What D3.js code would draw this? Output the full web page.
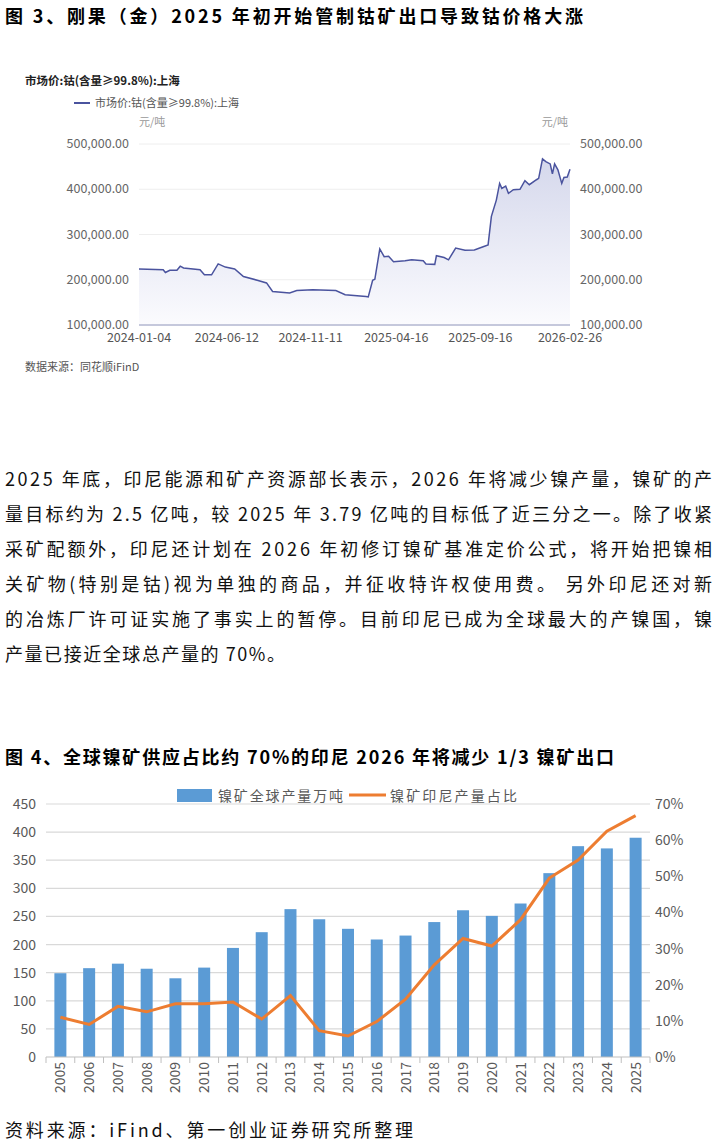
<!DOCTYPE html>
<html><head><meta charset="utf-8">
<script src="https://cdn.jsdelivr.net/npm/d3@7"></script>
<style>body{margin:0;background:#fff}svg{display:block;font-family:"Noto Sans CJK SC","Noto Sans",sans-serif}</style>
</head><body>
<svg id="page" width="716" height="1144"></svg>
<script>
// cobalt price, Shanghai (yuan/ton)
var priceDates = ["2024-01-04","2024-02-17","2024-02-21","2024-02-29","2024-03-13","2024-03-19","2024-03-25","2024-04-24","2024-05-02","2024-05-15","2024-05-27","2024-06-09","2024-06-26","2024-07-12","2024-08-06","2024-08-23","2024-09-03","2024-10-04","2024-10-17","2024-11-15","2024-12-27","2025-01-13","2025-02-20","2025-02-24","2025-03-04","2025-03-08","2025-03-17","2025-03-25","2025-04-02","2025-04-11","2025-05-02","2025-05-14","2025-06-04","2025-06-09","2025-06-25","2025-06-28","2025-07-12","2025-07-20","2025-08-02","2025-08-19","2025-09-05","2025-09-21","2025-09-30","2025-10-06","2025-10-15","2025-10-21","2025-10-25","2025-11-01","2025-11-06","2025-11-15","2025-11-27","2025-12-06","2025-12-14","2025-12-27","2025-12-31","2026-01-07","2026-01-13","2026-01-21","2026-01-25","2026-01-29","2026-02-04","2026-02-11","2026-02-15","2026-02-21","2026-02-26"];
var priceValues = [224000,222000,216000,221000,221000,230000,226000,222000,211000,211000,235000,228000,224000,207000,199000,193000,174000,171000,176000,178000,176000,167000,163000,162000,199000,201000,268000,251000,252000,240000,242000,244000,242000,235000,234000,253000,249000,244000,270000,265000,266000,273000,277000,340000,376000,413000,402000,407000,391000,399000,400000,419000,410000,421000,424000,467000,461000,456000,434000,456000,443000,413000,426000,427000,444000];
var priceTicks = [100000,200000,300000,400000,500000];
var dateTicks = ["2024-01-04","2024-06-12","2024-11-11","2025-04-16","2025-09-16","2026-02-26"];

// nickel ore
var years = ["2005","2006","2007","2008","2009","2010","2011","2012","2013","2014","2015","2016","2017","2018","2019","2020","2021","2022","2023","2024","2025"];
var globalOutput = [149,158,166,157,140,159,194,222,263,245,228,209,216,240,261,251,273,327,375,371,390];
var indoShare = [0.11,0.09,0.14,0.125,0.147,0.147,0.152,0.105,0.17,0.073,0.058,0.098,0.16,0.255,0.328,0.307,0.38,0.495,0.545,0.625,0.668];
var leftTicks = [0,50,100,150,200,250,300,350,400,450];
var rightTicks = [0,0.1,0.2,0.3,0.4,0.5,0.6,0.7];

var paragraph = [
  "2025 年底，印尼能源和矿产资源部长表示，2026 年将减少镍产量，镍矿的产",
  "量目标约为 2.5 亿吨，较 2025 年 3.79 亿吨的目标低了近三分之一。除了收紧",
  "采矿配额外，印尼还计划在 2026 年初修订镍矿基准定价公式，将开始把镍相",
  "关矿物(特别是钴)视为单独的商品，并征收特许权使用费。 另外印尼还对新",
  "的冶炼厂许可证实施了事实上的暂停。目前印尼已成为全球最大的产镍国，镍",
  "产量已接近全球总产量的 70%。"
];

var svg = d3.select("#page");
var parse = d3.timeParse("%Y-%m-%d");

// titles
svg.append("text").attr("x", 5).attr("y", 23).attr("font-size", 18).attr("font-weight", "bold")
  .attr("textLength", 578).attr("lengthAdjust", "spacing")
  .text("图 3、刚果（金）2025 年初开始管制钴矿出口导致钴价格大涨");
svg.append("text").attr("x", 5).attr("y", 764).attr("font-size", 18).attr("font-weight", "bold")
  .attr("textLength", 609).attr("lengthAdjust", "spacing")
  .text("图 4、全球镍矿供应占比约 70%的印尼 2026 年将减少 1/3 镍矿出口");

// Chart 1
//======================================================================================
var x1 = d3.scaleTime().domain([parse("2024-01-04"), parse("2026-02-26")]).range([139, 570]);
var y1 = d3.scaleLinear().domain([100000, 500000]).range([325, 144]);
var c1 = svg.append("g");
c1.append("text").attr("x", 25).attr("y", 85).attr("font-size", 11.5).attr("font-weight", "bold").attr("fill", "#222").text("市场价:钴(含量≥99.8%):上海");
c1.append("line").attr("x1", 74).attr("x2", 90).attr("y1", 103).attr("y2", 103).attr("stroke", "#4a539e").attr("stroke-width", 2);
c1.append("text").attr("x", 95).attr("y", 107).attr("font-size", 11).attr("fill", "#555").text("市场价:钴(含量≥99.8%):上海");
c1.append("text").attr("x", 139).attr("y", 126).attr("font-size", 11).attr("fill", "#999").text("元/吨");
c1.append("text").attr("x", 568).attr("y", 126).attr("font-size", 11).attr("fill", "#999").attr("text-anchor", "end").text("元/吨");
priceTicks.forEach(function (t) {
  if (t > 100000) c1.append("line").attr("x1", 139).attr("x2", 570).attr("y1", y1(t)).attr("y2", y1(t)).attr("stroke", "#eeeeee");
  c1.append("text").attr("x", 129).attr("y", y1(t) + 4).attr("text-anchor", "end").attr("font-size", 12.5).attr("fill", "#666").text(d3.format(",.2f")(t));
  c1.append("text").attr("x", 580).attr("y", y1(t) + 4).attr("font-size", 12.5).attr("fill", "#666").text(d3.format(",.2f")(t));
});
var grad = svg.append("defs").append("linearGradient").attr("id", "g1").attr("x1", 0).attr("x2", 0).attr("y1", 0).attr("y2", 1);
grad.append("stop").attr("offset", "0").attr("stop-color", "#d5d8ec");
grad.append("stop").attr("offset", "1").attr("stop-color", "#fbfbfe");
var pts = priceDates.map(function (d, i) { return [parse(d), priceValues[i]]; });
c1.append("path").datum(pts).attr("fill", "url(#g1)")
  .attr("d", d3.area().x(function (d) { return x1(d[0]); }).y0(y1(100000)).y1(function (d) { return y1(d[1]); }));
c1.append("path").datum(pts).attr("fill", "none").attr("stroke", "#4a539e").attr("stroke-width", 1.5)
  .attr("d", d3.line().x(function (d) { return x1(d[0]); }).y(function (d) { return y1(d[1]); }));
c1.append("line").attr("x1", 139).attr("x2", 570).attr("y1", y1(100000)).attr("y2", y1(100000)).attr("stroke", "#c5c8dc").attr("stroke-width", 2);
dateTicks.forEach(function (d) {
  c1.append("text").attr("x", x1(parse(d))).attr("y", 342).attr("text-anchor", "middle").attr("font-size", 12.5).attr("fill", "#555").text(d);
});
c1.append("text").attr("x", 25).attr("y", 371).attr("font-size", 11).attr("fill", "#555").text("数据来源：同花顺iFinD");

// paragraph
paragraph.forEach(function (s, i) {
  var t = svg.append("text").attr("x", 5).attr("y", 486 + i * 35).attr("font-size", 18).attr("fill", "#111").text(s);
  if (i < paragraph.length - 1) t.attr("textLength", 707).attr("lengthAdjust", "spacing");
  else t.attr("textLength", 280).attr("lengthAdjust", "spacing");
});

// Chart 2
//======================================================================================
var x2 = d3.scaleBand().domain(years).range([46, 650]);
var yL = d3.scaleLinear().domain([0, 450]).range([1057, 804]);
var yR = d3.scaleLinear().domain([0, 0.7]).range([1057, 804]);
var c2 = svg.append("g");
leftTicks.forEach(function (t) {
  if (t > 0) c2.append("line").attr("x1", 46).attr("x2", 650).attr("y1", yL(t)).attr("y2", yL(t)).attr("stroke", "#d9d9d9").attr("stroke-width", 1.2);
  c2.append("text").attr("x", 36).attr("y", yL(t) + 5).attr("text-anchor", "end").attr("font-size", 14).attr("fill", "#595959").text(t);
});
rightTicks.forEach(function (t) {
  c2.append("text").attr("x", 655).attr("y", yR(t) + 5).attr("font-size", 14).attr("fill", "#595959").text(d3.format(".0%")(t));
});
c2.selectAll("rect.bar").data(globalOutput).enter().append("rect")
  .attr("x", function (d, i) { return x2(years[i]) + x2.bandwidth() / 2 - 6; })
  .attr("width", 12)
  .attr("y", function (d) { return yL(d); })
  .attr("height", function (d) { return yL(0) - yL(d); })
  .attr("fill", "#5b9bd5");
c2.append("path").datum(indoShare).attr("fill", "none").attr("stroke", "#ed7d31").attr("stroke-width", 3)
  .attr("d", d3.line().x(function (d, i) { return x2(years[i]) + x2.bandwidth() / 2; }).y(function (d) { return yR(d); }));
c2.append("line").attr("x1", 46).attr("x2", 650).attr("y1", 1057).attr("y2", 1057).attr("stroke", "#bfbfbf");
years.concat([""]).forEach(function (y, i) {
  var xx = 46 + i * x2.step();
  c2.append("line").attr("x1", xx).attr("x2", xx).attr("y1", 1057).attr("y2", 1063).attr("stroke", "#bfbfbf");
});
years.forEach(function (y) {
  var cx = x2(y) + x2.bandwidth() / 2;
  c2.append("text").attr("transform", "translate(" + (cx + 5) + ",1062) rotate(-90)").attr("text-anchor", "end")
    .attr("font-size", 14).attr("fill", "#595959").text(y);
});
c2.append("rect").attr("x", 177).attr("y", 789).attr("width", 35).attr("height", 13).attr("fill", "#5b9bd5");
c2.append("text").attr("x", 218).attr("y", 801).attr("font-size", 14).attr("fill", "#595959")
  .attr("textLength", 125).attr("lengthAdjust", "spacing").text("镍矿全球产量万吨");
c2.append("line").attr("x1", 349).attr("x2", 386).attr("y1", 795).attr("y2", 795).attr("stroke", "#ed7d31").attr("stroke-width", 3);
c2.append("text").attr("x", 390).attr("y", 801).attr("font-size", 14).attr("fill", "#595959")
  .attr("textLength", 127).attr("lengthAdjust", "spacing").text("镍矿印尼产量占比");

svg.append("text").attr("x", 5).attr("y", 1137).attr("font-size", 18).attr("fill", "#111")
  .attr("textLength", 408).attr("lengthAdjust", "spacing").text("资料来源：iFind、第一创业证券研究所整理");
</script>
</body></html>
